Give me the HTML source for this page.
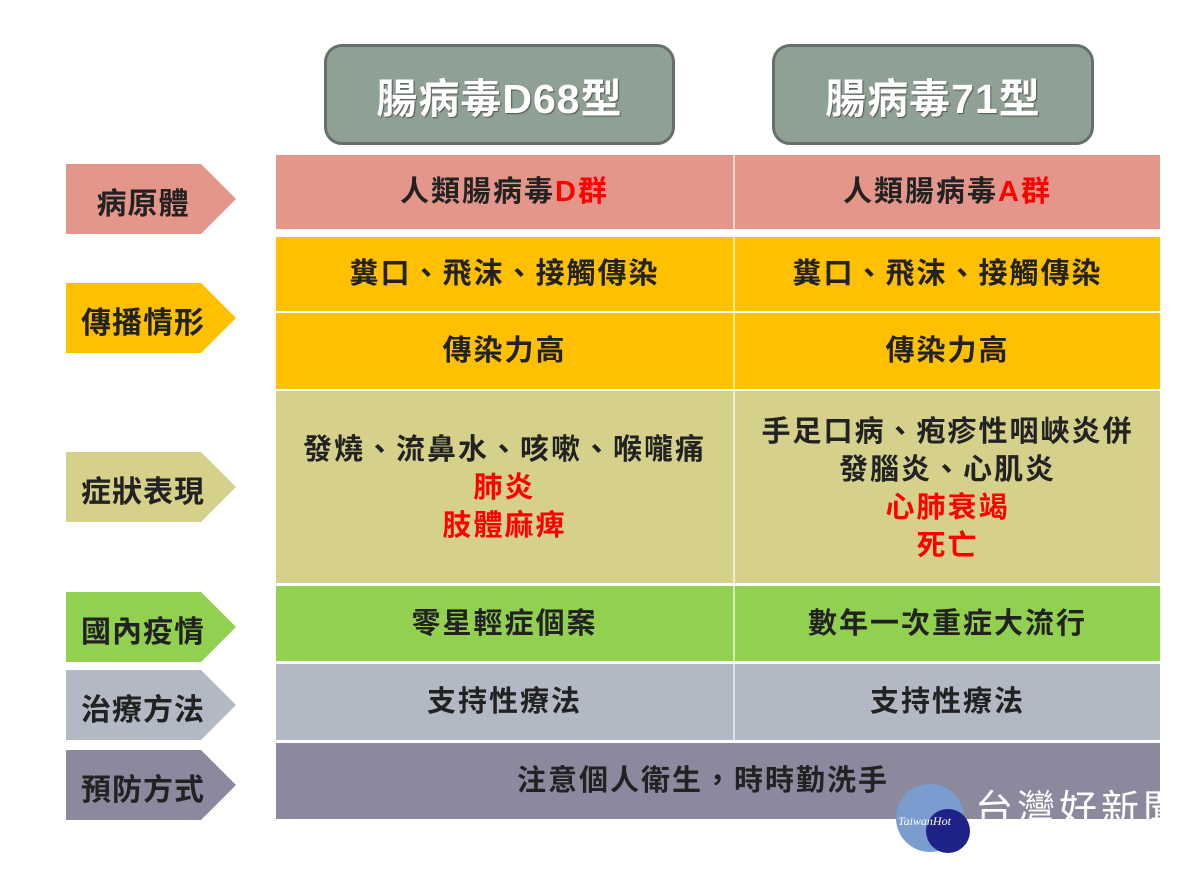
<!DOCTYPE html>
<html><head><meta charset="utf-8"><style>
body{margin:0;width:1198px;height:876px;background:#fff;position:relative;overflow:hidden;font-family:"Liberation Sans","Noto Sans CJK TC",sans-serif;}
.a{position:absolute}
.hd{position:absolute;background:#8fa094;border:3px solid #66706a;border-radius:18px;color:#fff;font-size:41px;font-weight:bold;display:flex;align-items:center;justify-content:center;box-sizing:border-box;text-shadow:1px 1px 1px #555;letter-spacing:1px}
.c{position:absolute;display:flex;flex-direction:column;align-items:center;justify-content:center;font-size:29px;letter-spacing:2px;font-weight:bold;color:#222;line-height:38px;text-align:center;white-space:nowrap}
.r{color:#f00}
.ar{position:absolute;left:66px;width:170px;height:70px;clip-path:polygon(0 0,135px 0,170px 50%,135px 100%,0 100%);display:flex;align-items:center;justify-content:center;padding-right:16px;padding-top:4px;box-sizing:border-box;font-size:30px;letter-spacing:1px;font-weight:bold;color:#222}
</style></head><body>
<div class="hd" style="left:324px;top:44px;width:351px;height:101px">腸病毒D68型</div>
<div class="hd" style="left:772px;top:44px;width:322px;height:101px">腸病毒71型</div>

<div class="a" style="left:276px;top:155px;width:884px;height:74px;background:#e39689"></div>
<div class="a" style="left:276px;top:237px;width:884px;height:74px;background:#ffc000"></div>
<div class="a" style="left:276px;top:313px;width:884px;height:76px;background:#ffc000"></div>
<div class="a" style="left:276px;top:391px;width:884px;height:192px;background:#d5d18a"></div>
<div class="a" style="left:276px;top:586px;width:884px;height:75px;background:#92d050"></div>
<div class="a" style="left:276px;top:664px;width:884px;height:76px;background:#b3b9c4"></div>
<div class="a" style="left:276px;top:743px;width:884px;height:76px;background:#8b899e"></div>
<div class="a" style="left:733px;top:155px;width:2px;height:585px;background:#fff;opacity:.6"></div>

<div class="c" style="left:276px;top:155px;width:457px;height:74px"><div>人類腸病毒<span class="r">D群</span></div></div>
<div class="c" style="left:735px;top:155px;width:425px;height:74px"><div>人類腸病毒<span class="r">A群</span></div></div>
<div class="c" style="left:276px;top:237px;width:457px;height:74px">糞口、飛沫、接觸傳染</div>
<div class="c" style="left:735px;top:237px;width:425px;height:74px">糞口、飛沫、接觸傳染</div>
<div class="c" style="left:276px;top:313px;width:457px;height:76px">傳染力高</div>
<div class="c" style="left:735px;top:313px;width:425px;height:76px">傳染力高</div>
<div class="c" style="left:276px;top:391px;width:457px;height:192px;justify-content:flex-start;padding-top:40px;box-sizing:border-box"><div>發燒、流鼻水、咳嗽、喉嚨痛</div><div class="r">肺炎</div><div class="r">肢體麻痺</div></div>
<div class="c" style="left:735px;top:391px;width:425px;height:192px;justify-content:flex-start;padding-top:22px;box-sizing:border-box"><div>手足口病、疱疹性咽峽炎併</div><div>發腦炎、心肌炎</div><div class="r">心肺衰竭</div><div class="r">死亡</div></div>
<div class="c" style="left:276px;top:586px;width:457px;height:75px">零星輕症個案</div>
<div class="c" style="left:735px;top:586px;width:425px;height:75px">數年一次重症大流行</div>
<div class="c" style="left:276px;top:664px;width:457px;height:76px">支持性療法</div>
<div class="c" style="left:735px;top:664px;width:425px;height:76px">支持性療法</div>
<div class="c" style="left:276px;top:743px;width:884px;height:76px;padding-right:30px;box-sizing:border-box">注意個人衛生，時時勤洗手</div>

<div class="ar" style="top:164px;background:#e39689">病原體</div>
<div class="ar" style="top:283px;background:#ffc000">傳播情形</div>
<div class="ar" style="top:452px;background:#d5d18a">症狀表現</div>
<div class="ar" style="top:592px;background:#92d050">國內疫情</div>
<div class="ar" style="top:670px;background:#b3b9c4">治療方法</div>
<div class="ar" style="top:750px;background:#8b899e">預防方式</div>

<div class="a" style="left:896px;top:784px;width:68px;height:68px;border-radius:50%;background:#7a9ccf"></div>
<div class="a" style="left:926px;top:809px;width:44px;height:44px;border-radius:50%;background:#1f2287"></div>
<div class="a" style="left:898px;top:814px;font-size:12px;font-style:italic;color:#fff;font-family:'Liberation Serif',serif">TaiwanHot</div>
<div class="a" style="left:975px;top:788px;width:185px;height:31px;overflow:hidden;font-size:38px;color:#fff;letter-spacing:4px;line-height:44px;white-space:nowrap">台灣好新聞</div>
</body></html>
